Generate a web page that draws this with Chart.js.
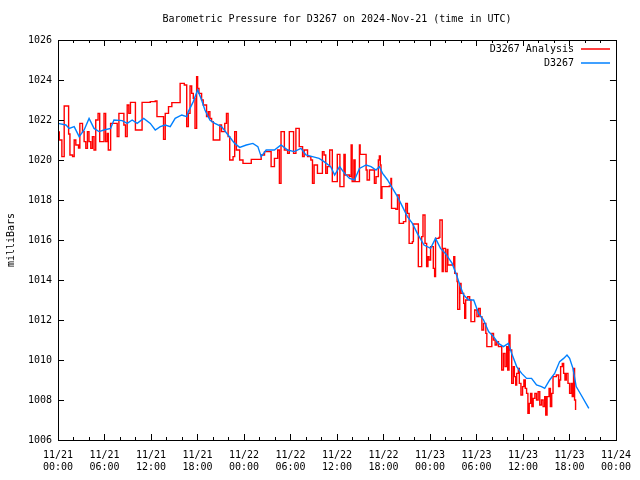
<!DOCTYPE html>
<html>
<head>
<meta charset="utf-8">
<script src="https://cdn.jsdelivr.net/npm/chart.js@4"></script>
<style>
  html, body { margin: 0; padding: 0; background: #fff; }
  #wrap { width: 640px; height: 480px; }
</style>
</head>
<body>
<div id="wrap"><canvas id="chart" width="640" height="480"></canvas></div>
<script>
// hours since 2024-11-21 00:00 UTC
const chartTitle = 'Barometric Pressure for D3267 on 2024-Nov-21 (time in UTC)';
const yTitle = 'milliBars';
const xTickLabels = [
  ['11/21', '00:00'], ['11/21', '06:00'], ['11/21', '12:00'], ['11/21', '18:00'],
  ['11/22', '00:00'], ['11/22', '06:00'], ['11/22', '12:00'], ['11/22', '18:00'],
  ['11/23', '00:00'], ['11/23', '06:00'], ['11/23', '12:00'], ['11/23', '18:00'],
  ['11/24', '00:00']
];

// D3267 Analysis (red, stepped)
const analysisHours = [
  0, 0.17, 0.5, 0.8, 1.25, 1.37, 1.54, 1.88, 2.09, 2.3, 2.65, 2.82, 3.16, 3.37, 3.59, 3.8,
  4.0, 4.23, 4.44, 4.65, 4.87, 5.17, 5.38, 5.72, 5.94, 6.15, 6.36, 6.49, 6.79, 7.43, 7.64, 7.86,
  8.28, 8.5, 8.71, 8.93, 9.14, 9.35, 9.78, 9.99, 10.63, 10.85, 11.91, 12.55, 12.77, 13.41, 13.62, 13.84,
  14.26, 14.69, 15.54, 15.76, 16.3, 16.61, 16.82, 17.04, 17.25, 17.46, 17.68, 17.89, 18.02, 18.19, 18.53, 18.74,
  19.17, 19.39, 19.6, 19.82, 20.03, 20.67, 20.88, 21.1, 21.52, 21.74, 21.95, 22.16, 22.59, 22.8, 23.02, 23.44,
  23.87, 24.51, 24.94, 25.79, 26.22, 26.65, 27.29, 27.5, 27.93, 28.35, 28.57, 28.78, 29.21, 29.63, 29.85, 30.14,
  30.4, 30.7, 31.13, 31.56, 31.77, 32.2, 32.63, 32.84, 33.05, 33.48, 33.9, 34.12, 34.33, 34.55, 34.76, 35.06,
  35.4, 36.04, 36.38, 36.9, 37.06, 37.62, 37.83, 37.96, 38.18, 38.34, 38.69, 38.9, 38.99, 39.63, 39.76, 39.89,
  40.19, 40.83, 41.04, 41.34, 41.47, 41.59, 41.68, 41.8, 42.75, 42.96, 43.04, 43.6, 43.81, 44.03, 44.58, 44.88,
  45.09, 45.31, 45.73, 45.86, 46.29, 46.5, 46.8, 46.93, 47.1, 47.36, 47.57, 47.74, 47.87, 48.08, 48.43, 48.6,
  48.72, 49.16, 49.28, 49.45, 49.58, 49.71, 49.88, 50.0, 50.22, 50.31, 50.86, 51.07, 51.2, 51.5, 51.58, 51.72,
  51.84, 52.01, 52.27, 52.35, 52.48, 52.61, 52.87, 53.12, 53.29, 53.64, 53.77, 54.06, 54.28, 54.49, 54.7, 54.92,
  55.21, 55.34, 55.77, 55.98, 56.2, 56.41, 56.62, 56.84, 57.14, 57.26, 57.48, 57.69, 57.9, 58.03, 58.2, 58.33,
  58.55, 58.76, 58.89, 59.06, 59.19, 59.4, 59.53, 59.74, 59.95, 60.12, 60.3, 60.47, 60.64, 60.81, 60.98, 61.15,
  61.32, 61.54, 61.75, 61.96, 62.17, 62.39, 62.6, 62.81, 62.94, 63.11, 63.37, 63.54, 63.71, 63.88, 64.31, 64.6,
  64.73, 64.86, 65.08, 65.25, 65.42, 65.59, 65.81, 66.02, 66.23, 66.36, 66.53, 66.66, 66.79
];
const analysisValues = [
  1021.4, 1021.0, 1020.17, 1022.7, 1022.7, 1021.3, 1020.25, 1020.17, 1021.0, 1020.75, 1020.6, 1021.83, 1021.42, 1020.92, 1020.58, 1021.42,
  1020.92, 1020.58, 1021.17, 1020.5, 1022.0, 1022.33, 1020.92, 1020.92, 1022.33, 1020.92, 1021.33, 1020.5, 1021.83, 1021.83, 1021.17, 1022.33,
  1022.33, 1021.75, 1021.17, 1022.75, 1022.33, 1022.88, 1022.88, 1021.5, 1021.5, 1022.88, 1022.92, 1022.95, 1022.17, 1022.17, 1021.03, 1022.33,
  1022.67, 1022.87, 1022.87, 1023.83, 1023.75, 1021.67, 1022.33, 1023.7, 1023.33, 1023.08, 1021.58, 1024.17, 1023.58, 1023.33, 1023.0, 1022.75,
  1022.17, 1022.42, 1022.08, 1021.92, 1021.0, 1021.0, 1021.75, 1021.42, 1021.83, 1022.33, 1021.17, 1020.0, 1020.17, 1021.42, 1020.5, 1020.0,
  1019.83, 1019.83, 1020.03, 1020.03, 1020.25, 1020.42, 1020.42, 1019.67, 1020.08, 1020.5, 1018.83, 1021.42, 1020.5, 1020.33, 1021.42, 1021.42,
  1020.33, 1021.58, 1020.67, 1020.17, 1020.5, 1020.17, 1020.0, 1018.83, 1019.75, 1019.33, 1019.33, 1020.42, 1020.25, 1019.33, 1019.67, 1020.5,
  1018.92, 1020.28, 1018.67, 1020.28, 1019.25, 1019.17, 1020.75, 1018.92, 1020.0, 1018.92, 1018.92, 1020.75, 1020.28, 1020.28, 1019.5, 1019.0,
  1019.5, 1018.83, 1019.17, 1020.0, 1020.2, 1019.75, 1018.08, 1018.67, 1018.7, 1019.08, 1017.58, 1017.53, 1018.25, 1016.83, 1016.92, 1017.83,
  1017.33, 1015.83, 1015.92, 1016.8, 1016.8, 1014.67, 1014.67, 1016.17, 1017.25, 1015.83, 1014.67, 1015.17, 1015.0, 1015.67, 1014.58, 1014.17,
  1016.08, 1016.13, 1017.0, 1017.0, 1014.42, 1015.58, 1015.58, 1014.42, 1015.53, 1014.75, 1014.75, 1015.17, 1014.33, 1013.92, 1012.53, 1012.53,
  1013.83, 1013.33, 1013.33, 1012.83, 1012.08, 1013.0, 1013.17, 1013.0, 1011.92, 1011.92, 1012.5, 1012.17, 1012.58, 1012.17, 1011.5, 1011.83,
  1011.33, 1010.67, 1010.67, 1011.33, 1011.0, 1010.75, 1010.92, 1010.67, 1010.67, 1009.5, 1010.33, 1009.67, 1010.67, 1009.5, 1011.25, 1010.5,
  1008.83, 1009.67, 1009.17, 1008.75, 1009.33, 1009.58, 1008.83, 1008.25, 1008.67, 1009.0, 1008.58, 1008.33, 1007.33, 1007.83, 1008.33, 1007.67,
  1008.08, 1008.33, 1008.0, 1008.42, 1007.75, 1008.0, 1007.67, 1008.17, 1007.25, 1008.17, 1008.58, 1007.67, 1008.33, 1009.17, 1009.25, 1008.67,
  1009.0, 1009.67, 1009.83, 1009.33, 1009.0, 1009.33, 1008.83, 1008.33, 1008.83, 1008.17, 1009.58, 1008.0, 1007.5
];

// D3267 observed (blue)
const obsHours = [
  0, 1.02, 1.45, 2.09, 2.73, 3.37, 4.01, 4.65, 5.29, 5.93, 6.79, 7.22, 8.29, 8.93, 9.57, 10.21,
  11.06, 11.91, 12.55, 13.2, 13.84, 14.48, 15.12, 15.97, 16.61, 16.82, 17.46, 18.02, 18.53, 18.96, 19.6, 20.24,
  21.1, 21.95, 22.8, 23.44, 24.3, 25.15, 25.79, 26.22, 26.86, 27.93, 28.78, 29.63, 30.49, 31.35, 31.99, 32.84,
  33.69, 34.33, 35.19, 35.7, 36.34, 36.98, 37.62, 38.26, 38.9, 39.76, 40.4, 41.04, 41.47, 41.89, 42.53, 43.17,
  43.81, 44.45, 45.09, 45.73, 46.37, 47.23, 48.08, 48.72, 49.36, 50.0, 50.86, 51.5, 51.92, 52.35, 52.99, 53.64,
  54.28, 54.92, 55.56, 56.2, 56.84, 57.48, 58.12, 58.55, 59.19, 59.83, 60.47, 61.11, 61.75, 62.39, 62.81, 63.45,
  64.09, 64.73, 65.25, 65.68, 66.02, 66.45, 66.87, 67.51, 68.5
];
const obsValues = [
  1021.83, 1021.75, 1021.58, 1021.67, 1021.17, 1021.5, 1022.08, 1021.58, 1021.42, 1021.5, 1021.58, 1022.0, 1021.97, 1021.83, 1022.0, 1021.83,
  1022.08, 1021.83, 1021.5, 1021.67, 1021.75, 1021.67, 1022.08, 1022.25, 1022.17, 1022.42, 1022.92, 1023.5, 1023.0, 1022.5, 1022.0, 1021.83,
  1021.67, 1021.25, 1020.83, 1020.63, 1020.75, 1020.83, 1020.67, 1020.17, 1020.5, 1020.5, 1020.75, 1020.5, 1020.42, 1020.58, 1020.25, 1020.17,
  1020.08, 1019.92, 1019.67, 1019.25, 1019.67, 1019.33, 1019.08, 1019.0, 1019.58, 1019.75, 1019.67, 1019.5, 1019.67, 1019.33, 1019.0, 1018.58,
  1018.17, 1017.67, 1017.17, 1016.83, 1016.33, 1015.75, 1015.58, 1016.08, 1015.58, 1015.33, 1014.83, 1014.17, 1013.67, 1013.25, 1013.0, 1013.0,
  1012.33, 1012.0, 1011.42, 1011.17, 1010.83, 1010.67, 1010.83, 1010.33, 1009.67, 1009.33, 1009.08, 1009.08, 1008.75, 1008.67, 1008.58, 1009.0,
  1009.33, 1009.92, 1010.08, 1010.25, 1010.08, 1009.58, 1008.67, 1008.25, 1007.58
];

const FONT = '"DejaVu Sans Mono", "Liberation Mono", monospace';

// title, y label, box, inward ticks and gnuplot-style legend
const gnuplotFrame = {
  id: 'gnuplotFrame',
  afterDraw(chart) {
    const ctx = chart.ctx;
    const a = chart.chartArea;
    const xs = chart.scales.x, ys = chart.scales.y;
    ctx.save();
    ctx.fillStyle = '#000';
    ctx.font = '10px ' + FONT;
    ctx.textAlign = 'center';
    ctx.textBaseline = 'middle';
    ctx.fillText(chartTitle, (a.left + a.right) / 2, 19);

    ctx.save();
    ctx.translate(11, 240);
    ctx.rotate(-Math.PI / 2);
    ctx.fillText(yTitle, 0, 0);
    ctx.restore();

    ctx.strokeStyle = '#000';
    ctx.lineWidth = 1;
    ctx.beginPath();
    for (let h = 0; h <= 72; h += 2) {
      const x = Math.round(xs.getPixelForValue(h)) + 0.5;
      const len = h % 6 === 0 ? 6 : 3;
      ctx.moveTo(x, a.bottom); ctx.lineTo(x, a.bottom - len);
      ctx.moveTo(x, a.top); ctx.lineTo(x, a.top + len);
    }
    for (let v = 1006; v <= 1026; v += 2) {
      const y = Math.round(ys.getPixelForValue(v)) + 0.5;
      ctx.moveTo(a.left, y); ctx.lineTo(a.left + 6, y);
      ctx.moveTo(a.right, y); ctx.lineTo(a.right - 6, y);
    }
    ctx.stroke();
    ctx.strokeRect(Math.round(a.left) + 0.5, Math.round(a.top) + 0.5,
      Math.round(a.right - a.left), Math.round(a.bottom - a.top));

    ctx.textAlign = 'right';
    chart.data.datasets.forEach((ds, i) => {
      const y = 49 + i * 14;
      ctx.fillStyle = '#000';
      ctx.fillText(ds.label, 574, y);
      ctx.beginPath();
      ctx.strokeStyle = ds.borderColor;
      ctx.lineWidth = 1.5;
      ctx.moveTo(581, y);
      ctx.lineTo(610, y);
      ctx.stroke();
    });
    ctx.restore();
  }
};

new Chart(document.getElementById('chart'), {
  type: 'line',
  data: {
    datasets: [
      {
        label: 'D3267 Analysis',
        data: analysisHours.map((h, i) => ({ x: h, y: analysisValues[i] })),
        borderColor: '#ff0000',
        borderWidth: 1.4,
        pointRadius: 0,
        stepped: true,
        order: 2
      },
      {
        label: 'D3267',
        data: obsHours.map((h, i) => ({ x: h, y: obsValues[i] })),
        borderColor: '#0080ff',
        borderWidth: 1.4,
        pointRadius: 0,
        tension: 0,
        order: 1
      }
    ]
  },
  options: {
    responsive: false,
    animation: false,
    devicePixelRatio: 1,
    layout: { padding: { top: 40, right: 20, left: 0, bottom: 0 } },
    plugins: { legend: { display: false }, tooltip: { enabled: false } },
    scales: {
      x: {
        type: 'linear',
        min: 0, max: 72,
        afterFit: s => { s.height = 40; },
        grid: { display: false, drawTicks: false },
        border: { display: false },
        ticks: {
          stepSize: 6,
          maxRotation: 0,
          autoSkip: false,
          padding: 9,
          color: '#000',
          font: { family: FONT, size: 10, lineHeight: 1.25 },
          callback: v => xTickLabels[v / 6]
        }
      },
      y: {
        min: 1006, max: 1026,
        afterFit: s => { s.width = 58; },
        grid: { display: false, drawTicks: false },
        border: { display: false },
        ticks: {
          stepSize: 2,
          padding: 6,
          color: '#000',
          font: { family: FONT, size: 10 },
          callback: v => String(v)
        }
      }
    }
  },
  plugins: [gnuplotFrame]
});
</script>
</body>
</html>
